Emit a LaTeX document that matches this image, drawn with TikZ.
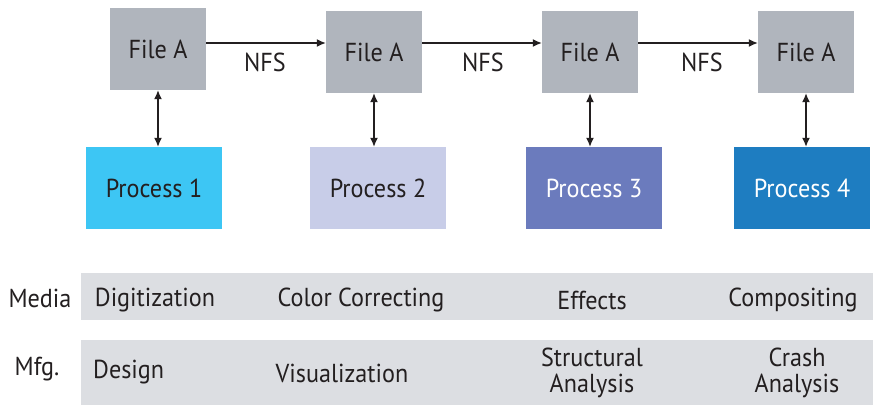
\documentclass[tikz,border=0pt]{standalone}
\usepackage{fontspec}
\setmainfont[FakeStretch=0.93]{PT Sans}
\usetikzlibrary{arrows.meta}
\definecolor{filegray}{HTML}{B0B5BD}
\definecolor{pone}{HTML}{3DC6F4}
\definecolor{ptwo}{HTML}{C8CDE8}
\definecolor{pthree}{HTML}{6B7BBD}
\definecolor{pfour}{HTML}{1E7DC1}
\definecolor{band}{HTML}{DCDEE2}
\definecolor{ink}{HTML}{231F20}
\tikzset{
  filebox/.style={fill=filegray, minimum width=96pt, minimum height=82pt, inner sep=0pt, text=ink},
  procbox/.style={minimum width=136pt, minimum height=82pt, inner sep=0pt},
  lbl/.style={text=ink, inner sep=0pt},
  conn/.style={draw=ink, line width=1.3pt},
  tip/.style={-{Latex[length=9pt,width=8pt]}},
  dtip/.style={{Latex[length=9pt,width=8pt]}-{Latex[length=9pt,width=8pt]}},
}
\begin{document}
\begin{tikzpicture}[x=1pt,y=-1pt, font=\fontsize{26}{30}\selectfont]
\useasboundingbox (0,0) rectangle (874,407);
% bands
\fill[band] (81,273) rectangle (873,320);
\fill[band] (81,340) rectangle (873,405);
% file boxes
\node[filebox] (f1) at (158,49) {File A};
\node[filebox] (f2) at (374,52) {File A};
\node[filebox] (f3) at (590,52) {File A};
\node[filebox] (f4) at (806,52) {File A};
% process boxes
\node[procbox, fill=pone, text=ink] (p1) at (154,188) {Process 1};
\node[procbox, fill=ptwo, text=ink] (p2) at (378,188) {Process 2};
\node[procbox, fill=pthree, text=white] (p3) at (594,188) {Process 3};
\node[procbox, fill=pfour, text=white] (p4) at (802,188) {Process 4};
% horizontal arrows
\coordinate (ay) at (0,43);
\draw[conn, tip] (f1.east |- ay) -- (f2.west |- ay);
\draw[conn, tip] (f2.east |- ay) -- (f3.west |- ay);
\draw[conn, tip] (f3.east |- ay) -- (f4.west |- ay);
\node[lbl] (n1) at (265,62) {NFS};
\node[lbl] (n2) at (483,62) {NFS};
\node[lbl] (n3) at (702,62) {NFS};
% vertical arrows
\draw[conn, dtip] (f1.south) -- (f1.south |- p1.north);
\draw[conn, dtip] (f2.south) -- (f2.south |- p2.north);
\draw[conn, dtip] (f3.south) -- (f3.south |- p3.north);
\draw[conn, dtip] (f4.south) -- (f4.south |- p4.north);
% row labels
\node[lbl] (media) at (40,298) {Media};
\node[lbl] (mfg) at (37,369) {Mfg.};
% media row
\node[lbl] (m1) at (155,300) {Digitization};
\node[lbl] (m2) at (361,300) {Color Correcting};
\node[lbl] (m3) at (592,300) {Effects};
\node[lbl] (m4) at (793,300) {Compositing};
% mfg row
\node[lbl, anchor=west] (g1) at (93,372) {Design};
\node[lbl] (g2) at (342,373) {Visualization};
\node[lbl, align=center, font=\fontsize{26}{26}\selectfont] (g3) at (592,373) {Structural\\Analysis};
\node[lbl, align=center, font=\fontsize{26}{26}\selectfont] (g4) at (797,373) {Crash\\Analysis};
\end{tikzpicture}
\end{document}
